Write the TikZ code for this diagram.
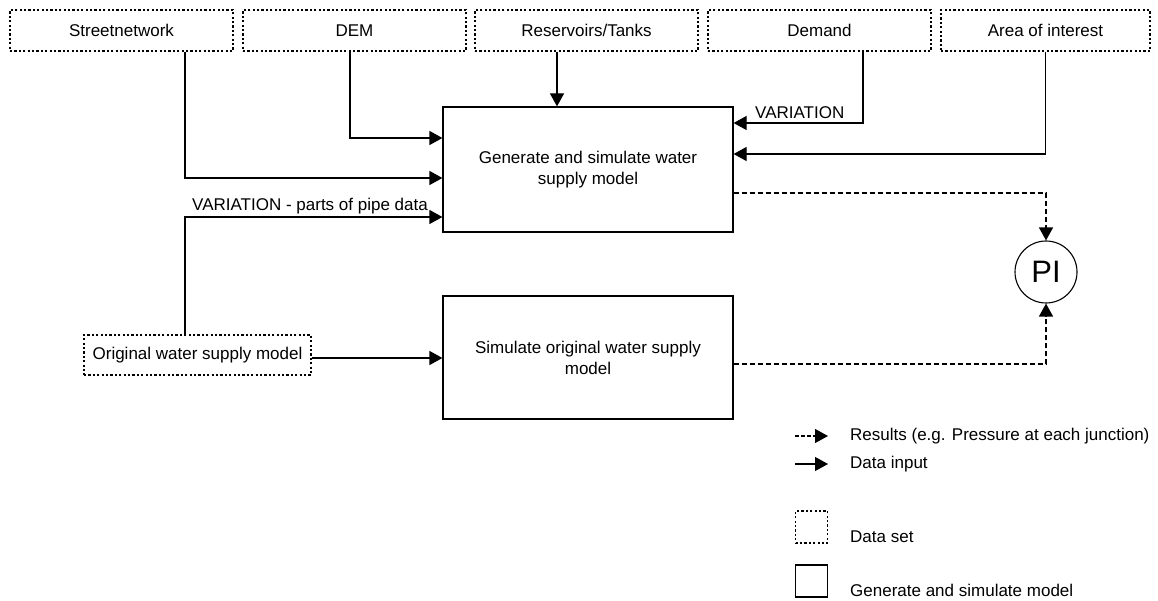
\documentclass[tikz,border=0pt]{standalone}
\usepackage{fontspec}
\setmainfont{Liberation Sans}
\usetikzlibrary{arrows.meta,shapes.geometric}
\tikzset{
  dataset/.style={draw, line width=1.1pt, dash pattern=on 2.2pt off 2.2pt, inner sep=0pt, minimum height=41pt},
  process/.style={draw, line width=1.2pt, inner sep=0pt, align=center},
  conn/.style={line width=1.2pt, -{Triangle[length=13pt,width=14pt]}},
  res/.style={conn, dash pattern=on 5pt off 3pt},
  lbl/.style={inner sep=0pt}
}
\begin{document}
\begin{tikzpicture}[x=1pt,y=-1pt,font=\fontsize{17}{21}\selectfont]
\useasboundingbox (0,0) rectangle (1158,601);
% data sets
\node[dataset, minimum width=223pt] (sn) at (121.5,30.5) {Streetnetwork};
\node[dataset, minimum width=223pt] (dem) at (354.5,30.5) {DEM};
\node[dataset, minimum width=223pt] (res) at (586.5,30.5) {Reservoirs/Tanks};
\node[dataset, minimum width=223pt] (dmd) at (819.5,30.5) {Demand};
\node[dataset, minimum width=209pt] (aoi) at (1045.5,30.5) {Area of interest};
\node[dataset, minimum width=227pt, minimum height=40pt] (orig) at (197.5,355) {Original water supply model};
% processes
\node[process, minimum width=290pt, minimum height=125pt] (gen) at (588,169.5) {Generate and simulate water\\supply model};
\node[process, minimum width=290pt, minimum height=123pt] (sim) at (588,357.5) {Simulate original water supply\\model};
\node[draw, circle, line width=1.1pt, minimum size=62pt, inner sep=0pt, font=\fontsize{31}{31}\selectfont] (pi) at (1046,272) {PI};
% data input connectors
\draw[conn] (res.south -| 557,0) -- (gen.north -| 557,0);
\draw[conn] (dem.south -| 350,0) |- (gen.west |- 0,138);
\draw[conn] (sn.south -| 185,0) |- (gen.west |- 0,178);
\draw[conn] (dmd.south -| 863,0) |- (gen.east |- 0,123);
\node[lbl, anchor=west] (varlbl) at (755,113) {VARIATION};
\draw[conn] (aoi.south) |- (gen.east |- 0,154);
\draw[conn] (orig.north -| 185,0) |- (gen.west |- 0,217);
\node[lbl, anchor=east] (pipelbl) at (428,206) {VARIATION - parts of pipe data};
\draw[conn] (orig.east |- 0,358) -- (sim.west |- 0,358);
% result connectors
\draw[res] (gen.east |- 0,193) -| (pi.north);
\draw[res] (sim.east |- 0,364) -| (pi.south);
% legend
\coordinate (l1a) at (795,436); \coordinate (l1b) at (828,436);
\draw[res, dash pattern=on 3.5pt off 2.5pt] (l1a) -- (l1b);
\node[lbl, anchor=west] (l1t) at (850,436) {Results (e.g. Pressure at each junction)};
\coordinate (l2a) at (795,464); \coordinate (l2b) at (828,464);
\draw[conn] (l2a) -- (l2b);
\node[lbl, anchor=west] (l2t) at (850,464) {Data input};
\node[dataset, minimum width=32pt, minimum height=32pt] (l3) at (811.5,527) {};
\node[lbl, anchor=west] (l3t) at (850,537) {Data set};
\node[process, minimum width=32pt, minimum height=32pt] (l4) at (811.5,581) {};
\node[lbl, anchor=west] (l4t) at (850,590) {Generate and simulate model};
\end{tikzpicture}
\end{document}
